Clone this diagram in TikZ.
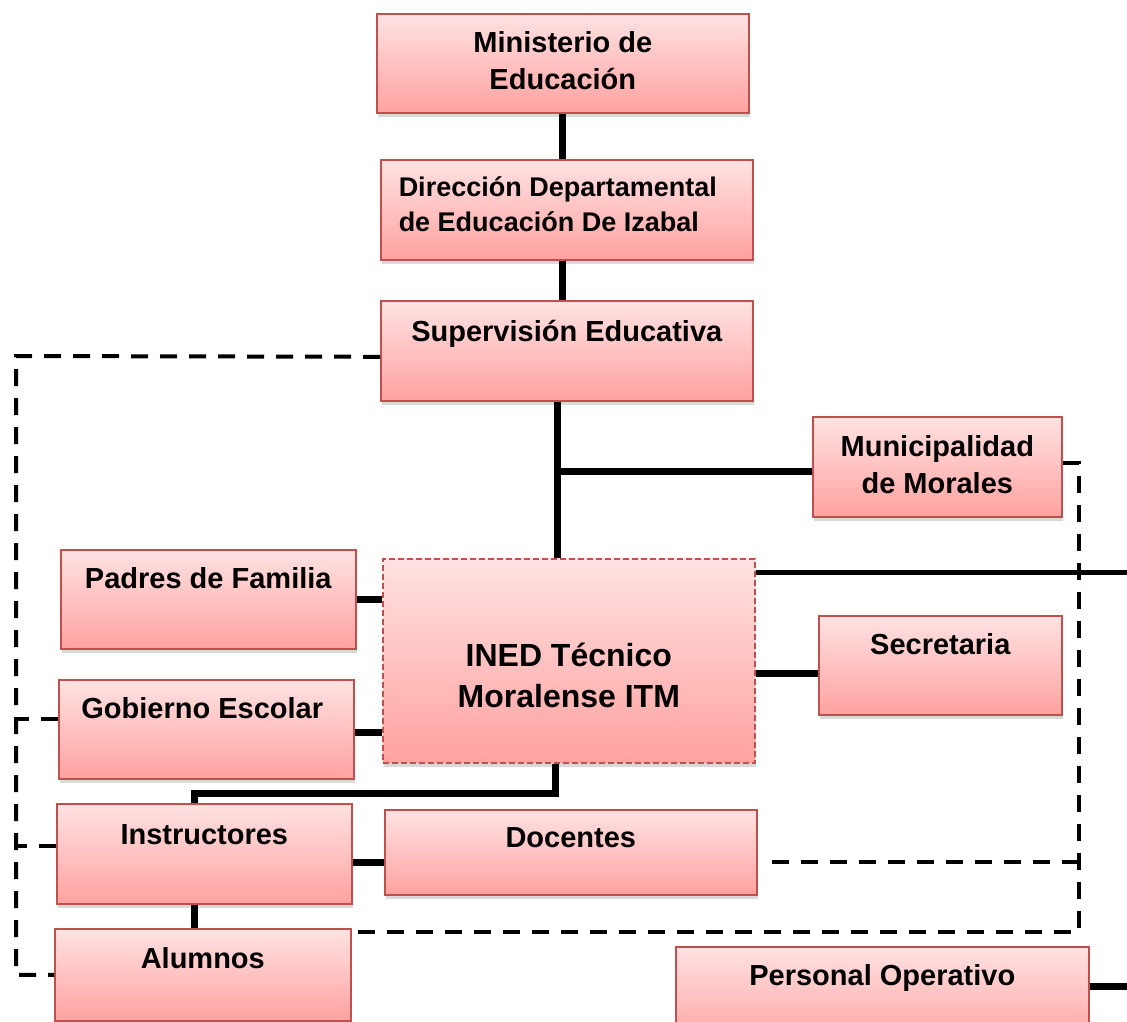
\documentclass[tikz,border=0pt]{standalone}
\usepackage{fontspec}
\setmainfont{Liberation Sans}
\usetikzlibrary{shadows}

\definecolor{rosaclaro}{RGB}{255,226,226}
\definecolor{rosaoscuro}{RGB}{255,162,160}
\definecolor{bordecaja}{RGB}{192,80,77}

\begin{document}
\begin{tikzpicture}[
  x=1pt, y=-1pt, % coordenadas en pixeles, y hacia abajo
  caja/.style={draw=bordecaja, line width=1.6pt, top color=rosaclaro, bottom color=rosaoscuro,
    anchor=north west, inner sep=0pt,
    drop shadow={shadow xshift=1pt, shadow yshift=-4pt, opacity=0.3}},
  texto/.style={anchor=base, inner sep=0pt, align=center, font=\bfseries\fontsize{29}{37}\selectfont},
  linea/.style={line width=7pt},
  punteada/.style={line width=4pt, dash pattern=on 17pt off 12pt},
  ]

\useasboundingbox (0,0) rectangle (1127,1022);
\clip (0,0) rectangle (1127,1022);

% Cajas
\node[caja, minimum width=372, minimum height=99] (minis) at (376,13) {};
\node[caja, minimum width=372, minimum height=100] (direc) at (380,159) {};
\node[caja, minimum width=372, minimum height=100] (super) at (380,300) {};
\node[caja, minimum width=249, minimum height=100] (muni) at (812,416) {};
\node[caja, minimum width=372, minimum height=204, dash pattern=on 6pt off 3pt] (ined) at (382,558) {};
\node[caja, minimum width=295, minimum height=99] (padres) at (60,549) {};
\node[caja, minimum width=243, minimum height=99] (secre) at (818,615) {};
\node[caja, minimum width=295, minimum height=99] (gobi) at (58,679) {};
\node[caja, minimum width=295, minimum height=100] (instr) at (56,803) {};
\node[caja, minimum width=372, minimum height=85] (docen) at (384,809) {};
\node[caja, minimum width=296, minimum height=92] (alum) at (54,928) {};
\node[caja, minimum width=413, minimum height=100] (perso) at (675,946) {};

% Textos
\node[texto] (tminis) at ([yshift=-77pt]minis.north) {Ministerio de\\Educación};
\node[texto, align=left, font=\bfseries\fontsize{27}{35}\selectfont] (tdirec)
  at ([xshift=-9pt, yshift=-72pt]direc.north) {Dirección Departamental\\de Educación De Izabal};
\node[texto] (tsuper) at ([yshift=-41pt]super.north) {Supervisión Educativa};
\node[texto] (tmuni) at ([yshift=-77pt]muni.north) {Municipalidad\\de Morales};
\node[texto, font=\bfseries\fontsize{32}{41}\selectfont] (tined)
  at ([yshift=-149pt]ined.north) {INED Técnico\\Moralense ITM};
\node[texto] (tpadres) at ([yshift=-39pt]padres.north) {Padres de Familia};
\node[texto] (tsecre) at ([yshift=-39pt]secre.north) {Secretaria};
\node[texto] (tgobi) at ([xshift=-4pt, yshift=-39pt]gobi.north) {Gobierno Escolar};
\node[texto] (tinstr) at ([yshift=-41pt]instr.north) {Instructores};
\node[texto] (tdocen) at ([yshift=-38pt]docen.north) {Docentes};
\node[texto] (talum) at ([yshift=-40pt]alum.north) {Alumnos};
\node[texto] (tperso) at ([yshift=-39pt]perso.north) {Personal Operativo};

% Lineas continuas
\coordinate (tronco) at ([xshift=-9pt]super.south);
\coordinate (nudo) at (555,793);
\coordinate (salida) at (1127,572);
\coordinate (salida2) at (1127,986);
\draw[linea] (minis.south) -- (minis.south |- direc.north);
\draw[linea] ([xshift=-4pt]direc.south) -- ([xshift=-4pt]direc.south |- super.north);
\draw[linea] (tronco) -- (tronco |- ined.north);
\draw[linea] ([yshift=-5pt]muni.west) -- ([yshift=-5pt]muni.west -| tronco);
\draw[line width=5pt] (ined.east |- salida) -- (salida);
\draw[linea] ([yshift=-8pt]secre.west) -- ([yshift=-8pt]secre.west -| ined.east);
\draw[linea] (padres.east) -- (padres.east -| ined.west);
\draw[linea] ([yshift=-3pt]gobi.east) -- ([yshift=-3pt]gobi.east -| ined.west);
\draw[linea] (ined.south -| nudo) -- (nudo) -| ([xshift=-10pt]instr.north);
\draw[linea] ([yshift=-9pt]instr.east) -- ([yshift=-9pt]instr.east -| docen.west);
\draw[linea] ([xshift=-10pt]instr.south) -- ([xshift=-10pt]instr.south |- alum.north);
\draw[linea] (perso.east |- salida2) -- (salida2);

% Lineas punteadas
\coordinate (esqizq) at (16,356);
\coordinate (esqder) at (1079,463);
\coordinate (esqder2) at (1079,932);
\draw[punteada] ([yshift=-6pt]super.west) -- (esqizq) -- (esqizq |- alum.west) -- (alum.west);
\draw[punteada] ([yshift=10pt]gobi.west) -- ([yshift=10pt]gobi.west -| esqizq);
\draw[punteada] ([yshift=8pt]instr.west) -- ([yshift=8pt]instr.west -| esqizq);
\draw[punteada] (muni.east |- esqder) -- (esqder) -- (esqder2) -- (esqder2 -| alum.east);
\draw[punteada] ([xshift=14pt, yshift=-10pt]docen.east) -- ([yshift=-10pt]docen.east -| esqder);

\end{tikzpicture}
\end{document}
